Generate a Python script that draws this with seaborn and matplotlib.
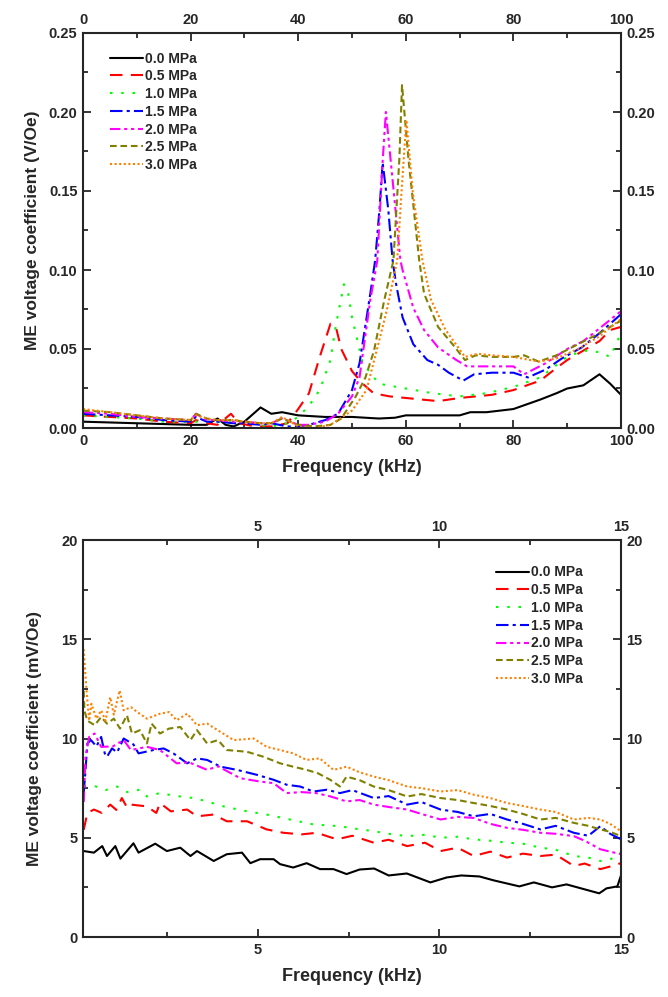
import matplotlib
matplotlib.use("Agg")
import matplotlib.pyplot as plt
from matplotlib.ticker import MultipleLocator, FormatStrFormatter
import seaborn as sns
import pandas as pd

# ---------------- data: top panel (V/Oe vs kHz) ----------------
labels = ["0.0 MPa", "0.5 MPa", "1.0 MPa", "1.5 MPa", "2.0 MPa", "2.5 MPa", "3.0 MPa"]
colors = ["#000000", "#FF0000", "#00FF00", "#0000FF", "#FF00FF", "#808000", "#FF8000"]

top_f00 = [0, 5, 10, 15, 20, 23, 25, 26.5, 28, 30, 33, 35, 37, 40, 45, 50, 55, 58, 60, 65, 70, 72, 75, 80, 85, 88, 90, 93, 96, 98, 100]
top_v00 = [0.004, 0.0035, 0.003, 0.0025, 0.002, 0.002, 0.006, 0.002, 0.001, 0.004, 0.013, 0.009, 0.010, 0.008, 0.007, 0.007, 0.006, 0.0065, 0.008, 0.008, 0.008, 0.010, 0.010, 0.012, 0.018, 0.022, 0.025, 0.027, 0.034, 0.028, 0.021]

top_f05 = [0, 5, 10, 15, 20, 21, 23, 25, 27.5, 29, 32, 35, 38, 40, 42, 44, 46, 47, 48, 50, 52, 54, 57, 60, 63, 66, 70, 73, 76, 80, 85, 88, 90, 93, 96, 98, 100]
top_v05 = [0.008, 0.007, 0.006, 0.004, 0.003, 0.005, 0.003, 0.002, 0.009, 0.003, 0.001, 0.001, 0.003, 0.012, 0.022, 0.045, 0.066, 0.064, 0.050, 0.036, 0.028, 0.022, 0.020, 0.019, 0.018, 0.017, 0.019, 0.020, 0.021, 0.024, 0.030, 0.038, 0.043, 0.049, 0.055, 0.062, 0.064]

top_f10 = [0, 5, 10, 15, 20, 25, 30, 35, 38, 40, 42, 44, 46, 47, 48.5, 49.3, 50, 52, 55, 60, 65, 70, 75, 80, 85, 90, 93, 96, 98, 100]
top_v10 = [0.008, 0.007, 0.006, 0.004, 0.004, 0.004, 0.003, 0.001, 0.003, 0.007, 0.014, 0.024, 0.043, 0.065, 0.091, 0.085, 0.070, 0.041, 0.028, 0.025, 0.022, 0.020, 0.022, 0.026, 0.032, 0.045, 0.049, 0.048, 0.045, 0.060]

top_f15 = [0, 5, 10, 15, 20, 21, 23, 25, 28, 30, 33, 35, 38, 40, 42, 45, 47.4, 50, 51.4, 53.4, 54.3, 55.1, 55.7, 56.75, 57.55, 58.2, 59.4, 61.4, 64, 66, 68, 70.7, 72.7, 76, 80, 82.7, 86, 89, 92.7, 96, 100]
top_v15 = [0.009, 0.008, 0.007, 0.005, 0.004, 0.007, 0.004, 0.004, 0.003, 0.003, 0.002, 0.003, 0.001, 0.001, 0.002, 0.005, 0.009, 0.024, 0.041, 0.085, 0.106, 0.138, 0.168, 0.138, 0.106, 0.091, 0.070, 0.053, 0.043, 0.040, 0.035, 0.030, 0.034, 0.035, 0.035, 0.032, 0.037, 0.044, 0.051, 0.060, 0.072]

top_f20 = [0, 5, 10, 15, 20, 21, 23, 25, 28, 30, 33, 35, 37, 40, 42, 45, 47.4, 50, 51.4, 53.4, 54.7, 55.7, 56.3, 57.2, 59.0, 59.4, 61.4, 63.4, 66, 69.4, 71.4, 75, 80, 82, 86, 90, 93, 96, 100]
top_v20 = [0.010, 0.009, 0.007, 0.006, 0.005, 0.009, 0.005, 0.005, 0.004, 0.004, 0.003, 0.003, 0.006, 0.002, 0.002, 0.004, 0.009, 0.020, 0.032, 0.081, 0.106, 0.169, 0.200, 0.169, 0.106, 0.100, 0.076, 0.062, 0.051, 0.043, 0.039, 0.039, 0.039, 0.034, 0.041, 0.050, 0.055, 0.063, 0.074]

top_f25 = [0, 5, 10, 15, 20, 21, 23, 25, 28, 30, 33, 35, 37, 40, 43, 46, 48, 50.7, 52.5, 54.1, 56, 57.7, 58.8, 59.3, 60.5, 62.5, 63.4, 66, 68.7, 71, 73, 76, 80, 82, 84.7, 88, 92, 96, 100]
top_v25 = [0.011, 0.010, 0.008, 0.006, 0.005, 0.009, 0.006, 0.005, 0.005, 0.004, 0.003, 0.003, 0.006, 0.002, 0.001, 0.002, 0.006, 0.020, 0.032, 0.049, 0.081, 0.106, 0.170, 0.217, 0.170, 0.106, 0.085, 0.064, 0.053, 0.043, 0.046, 0.045, 0.045, 0.046, 0.042, 0.046, 0.053, 0.060, 0.068]

top_f30 = [0, 5, 10, 15, 20, 21, 23, 25, 28, 30, 33, 35, 37, 40, 43, 46, 50, 52.7, 55.4, 56.5, 58.4, 59.2, 60.1, 61.3, 63.1, 64.7, 67.4, 71, 73.4, 76, 80, 84.7, 88, 92, 96, 100]
top_v30 = [0.012, 0.010, 0.008, 0.006, 0.005, 0.008, 0.006, 0.005, 0.005, 0.004, 0.003, 0.003, 0.007, 0.001, 0.000, 0.002, 0.011, 0.024, 0.060, 0.075, 0.106, 0.149, 0.195, 0.149, 0.106, 0.081, 0.062, 0.045, 0.047, 0.046, 0.045, 0.042, 0.044, 0.050, 0.058, 0.069]

# ---------------- data: bottom panel (mV/Oe vs kHz) ----------------
bot_f00 = [0.2, 0.48, 0.71, 0.84, 1.07, 1.21, 1.57, 1.71, 2.17, 2.49, 2.86, 3.14, 3.32, 3.78, 4.14, 4.56, 4.79, 5.06, 5.43, 5.61, 5.97, 6.34, 6.71, 7.08, 7.44, 7.8, 8.2, 8.6, 9.1, 9.75, 10.2, 10.6, 11.1, 11.5, 12.2, 12.6, 13.1, 13.5, 13.9, 14.4, 14.6, 14.9, 15.0]
bot_v00 = [4.33, 4.25, 4.58, 4.08, 4.58, 3.95, 4.72, 4.25, 4.7, 4.33, 4.5, 4.08, 4.33, 3.83, 4.17, 4.25, 3.72, 3.92, 3.92, 3.67, 3.5, 3.72, 3.42, 3.42, 3.17, 3.4, 3.45, 3.1, 3.2, 2.75, 3.0, 3.1, 3.05, 2.85, 2.55, 2.75, 2.5, 2.65, 2.45, 2.2, 2.45, 2.55, 3.1]

bot_f05 = [0.2, 0.3, 0.48, 0.7, 0.93, 1.1, 1.25, 1.4, 1.5, 1.94, 2.2, 2.3, 2.6, 3.05, 3.32, 3.78, 4.14, 4.7, 5.24, 5.7, 6.2, 6.62, 7.17, 7.6, 8.19, 8.6, 9.11, 9.6, 10.03, 10.5, 10.94, 11.4, 11.86, 12.3, 12.78, 13.2, 13.7, 14.0, 14.43, 14.7, 15.0]
bot_v05 = [5.4, 6.25, 6.42, 6.25, 6.67, 6.4, 7.0, 6.5, 6.67, 6.58, 6.25, 6.75, 6.33, 6.42, 6.08, 6.17, 5.83, 5.83, 5.42, 5.25, 5.17, 5.25, 4.92, 5.1, 4.75, 4.9, 4.58, 4.75, 4.33, 4.5, 4.08, 4.3, 4.0, 4.2, 4.08, 4.15, 3.58, 3.7, 3.42, 3.55, 3.72]

bot_f10 = [0.2, 0.48, 0.8, 1.12, 1.4, 1.75, 1.94, 2.3, 2.6, 2.86, 3.23, 3.6, 4.05, 4.7, 5.24, 5.88, 6.53, 7.26, 7.7, 8.19, 8.6, 9.11, 9.6, 10.03, 10.5, 10.94, 11.4, 11.86, 12.3, 12.78, 13.2, 13.7, 14.1, 14.43, 14.7, 15.0]
bot_v10 = [7.58, 7.62, 7.4, 7.58, 7.3, 7.42, 7.08, 7.25, 7.15, 7.08, 7.0, 6.83, 6.58, 6.33, 6.17, 5.92, 5.67, 5.58, 5.45, 5.33, 5.2, 5.08, 5.15, 5.0, 5.05, 4.92, 4.85, 4.75, 4.7, 4.5, 4.4, 4.08, 4.0, 3.83, 3.9, 4.25]

bot_f15 = [0.2, 0.25, 0.3, 0.4, 0.55, 0.68, 0.78, 0.84, 0.98, 1.12, 1.3, 1.57, 1.71, 2.12, 2.4, 2.67, 2.86, 3.05, 3.32, 3.6, 3.97, 4.42, 4.97, 5.43, 5.79, 6.16, 6.53, 6.9, 7.26, 7.6, 8.19, 8.6, 9.11, 9.5, 10.03, 10.5, 10.94, 11.4, 11.86, 12.3, 12.78, 13.2, 13.7, 14.1, 14.43, 14.7, 15.0]
bot_v15 = [7.25, 8.42, 9.75, 9.92, 9.6, 10.08, 9.25, 9.08, 9.5, 9.3, 10.0, 9.7, 9.25, 9.42, 9.5, 9.25, 9.0, 8.75, 9.0, 8.92, 8.58, 8.42, 8.17, 7.92, 7.67, 7.58, 7.33, 7.42, 7.25, 7.4, 7.0, 7.1, 6.67, 6.8, 6.42, 6.3, 6.08, 6.2, 5.92, 5.7, 5.42, 5.6, 5.25, 5.1, 5.58, 5.2, 4.92]

bot_f20 = [0.2, 0.25, 0.35, 0.5, 0.68, 1.0, 1.3, 1.5, 1.94, 2.3, 2.76, 3.1, 3.6, 3.9, 4.51, 5.06, 5.43, 5.79, 6.2, 6.6, 7.0, 7.44, 7.8, 8.19, 8.6, 9.11, 9.5, 10.03, 10.5, 10.94, 11.4, 11.86, 12.3, 12.78, 13.2, 13.7, 14.0, 14.43, 14.7, 15.0]
bot_v20 = [6.8, 9.1, 10.08, 10.25, 9.58, 9.6, 9.92, 9.42, 9.58, 9.42, 8.75, 8.8, 8.42, 8.6, 8.0, 7.83, 7.75, 7.25, 7.3, 7.25, 7.08, 6.83, 6.9, 6.67, 6.55, 6.42, 6.2, 5.92, 6.05, 6.0, 5.7, 5.5, 5.4, 5.25, 5.2, 5.08, 4.85, 4.42, 4.3, 4.17]

bot_f25 = [0.2, 0.22, 0.3, 0.5, 0.68, 0.84, 1.03, 1.2, 1.39, 1.53, 1.75, 1.94, 2.07, 2.3, 2.55, 2.86, 3.14, 3.32, 3.6, 3.9, 4.14, 4.7, 5.15, 5.61, 5.97, 6.34, 6.65, 6.99, 7.26, 7.44, 7.8, 8.19, 8.6, 9.11, 9.5, 10.03, 10.5, 10.94, 11.4, 11.86, 12.3, 12.78, 13.2, 13.7, 14.1, 14.43, 14.7, 15.0]
bot_v25 = [12.4, 11.4, 10.9, 10.67, 11.08, 10.75, 11.0, 10.5, 11.17, 10.25, 10.42, 9.75, 10.75, 10.25, 10.5, 10.58, 9.92, 10.42, 9.75, 9.92, 9.42, 9.33, 9.08, 8.75, 8.58, 8.42, 8.25, 7.92, 7.58, 8.08, 7.9, 7.58, 7.4, 7.08, 7.2, 7.0, 6.9, 6.75, 6.6, 6.42, 6.2, 5.92, 6.0, 5.75, 5.6, 5.42, 5.3, 5.08]

bot_f30 = [0.2, 0.25, 0.3, 0.35, 0.41, 0.55, 0.68, 0.8, 0.93, 1.03, 1.19, 1.3, 1.5, 1.7, 1.94, 2.3, 2.55, 2.76, 3.05, 3.32, 3.6, 3.97, 4.33, 4.88, 5.24, 5.61, 5.97, 6.34, 6.7, 7.08, 7.27, 7.44, 7.8, 8.19, 8.6, 9.11, 9.5, 10.03, 10.5, 10.94, 11.4, 11.86, 12.3, 12.78, 13.2, 13.7, 14.1, 14.43, 14.7, 15.0]
bot_v30 = [14.5, 13.1, 11.9, 10.9, 11.75, 11.0, 11.42, 10.9, 12.08, 11.2, 12.42, 11.42, 11.58, 11.3, 11.0, 11.25, 11.33, 10.92, 11.25, 10.67, 10.75, 10.33, 9.92, 10.0, 9.58, 9.42, 9.25, 8.92, 9.0, 8.42, 8.5, 8.58, 8.3, 8.08, 7.9, 7.58, 7.5, 7.33, 7.4, 7.17, 7.0, 6.75, 6.6, 6.42, 6.3, 5.92, 6.0, 5.92, 5.7, 5.33]

top_series = [(top_f00, top_v00), (top_f05, top_v05), (top_f10, top_v10), (top_f15, top_v15),
              (top_f20, top_v20), (top_f25, top_v25), (top_f30, top_v30)]
bot_series = [(bot_f00, bot_v00), (bot_f05, bot_v05), (bot_f10, bot_v10), (bot_f15, bot_v15),
              (bot_f20, bot_v20), (bot_f25, bot_v25), (bot_f30, bot_v30)]

# ---------------- style ----------------
sns.set_style("ticks")
plt.rcParams["font.family"] = ["Liberation Sans", "DejaVu Sans"]
plt.rcParams["font.weight"] = "bold"
plt.rcParams["axes.labelweight"] = "bold"

linestyles = ["-", (0, (6, 4)), (0, (1.2, 4.2)), (0, (6, 2, 1.5, 2)),
              (0, (5, 1.8, 1.5, 1.8, 1.5, 1.8)), (0, (3.2, 1.8)), (0, (1, 1.2))]

fig = plt.figure(figsize=(6.68, 9.97), dpi=100)
ax1 = fig.add_axes([83/668, 1-428/997, (621-83)/668, (428-33)/997])
ax2 = fig.add_axes([83/668, 1-937/997, (621-83)/668, (937-540)/997])


def draw(ax, series):
    for (fx, fy), lab, col, ls in zip(series, labels, colors, linestyles):
        df = pd.DataFrame({"f": fx, "v": fy})
        sns.lineplot(data=df, x="f", y="v", ax=ax, color=col, linewidth=1.5,
                     linestyle=ls, label=lab, estimator=None, sort=True)


draw(ax1, top_series)
draw(ax2, bot_series)

for ax in (ax1, ax2):
    for s in ax.spines.values():
        s.set_linewidth(1.5)
        s.set_visible(True)
    ax.tick_params(which="both", direction="in", top=True, right=True,
                   labeltop=True, labelright=True, width=1.3, labelsize=10.5, pad=4)
    ax.tick_params(which="major", length=6)
    ax.tick_params(which="minor", length=3.5)
    ax.set_xlabel("Frequency (kHz)", fontsize=13, fontweight="bold", labelpad=8)

# top panel axes
ax1.set_xlim(0, 100)
ax1.set_ylim(0, 0.25)
ax1.xaxis.set_major_locator(MultipleLocator(20))
ax1.xaxis.set_minor_locator(MultipleLocator(10))
ax1.yaxis.set_major_locator(MultipleLocator(0.05))
ax1.yaxis.set_minor_locator(MultipleLocator(0.025))
ax1.yaxis.set_major_formatter(FormatStrFormatter("%.2f"))
ax1.set_ylabel("ME voltage coefficient (V/Oe)", fontsize=12.5, fontweight="bold", labelpad=6)

# bottom panel axes
ax2.set_xlim(0.18, 15)
ax2.set_ylim(0, 20)
ax2.xaxis.set_major_locator(MultipleLocator(5))
ax2.xaxis.set_minor_locator(MultipleLocator(2.5))
ax2.yaxis.set_major_locator(MultipleLocator(5))
ax2.yaxis.set_minor_locator(MultipleLocator(2.5))
ax2.set_ylabel("ME voltage coefficient (mV/Oe)", fontsize=12.5, fontweight="bold", labelpad=14)

for ax in (ax1, ax2):
    for lbl in ax.get_xticklabels(which="both") + ax.get_yticklabels(which="both"):
        lbl.set_fontweight("bold")

leg_kw = dict(frameon=False, handlelength=2.4, handletextpad=0.15,
              labelspacing=0.27, borderaxespad=0.0, prop={"weight": "bold", "size": 10})
ax1.legend(loc="upper left", bbox_to_anchor=(0.04, 0.967), **leg_kw)
ax2.legend(loc="upper right", bbox_to_anchor=(0.94, 0.95), **leg_kw)

fig.savefig("out.png", dpi=100)
